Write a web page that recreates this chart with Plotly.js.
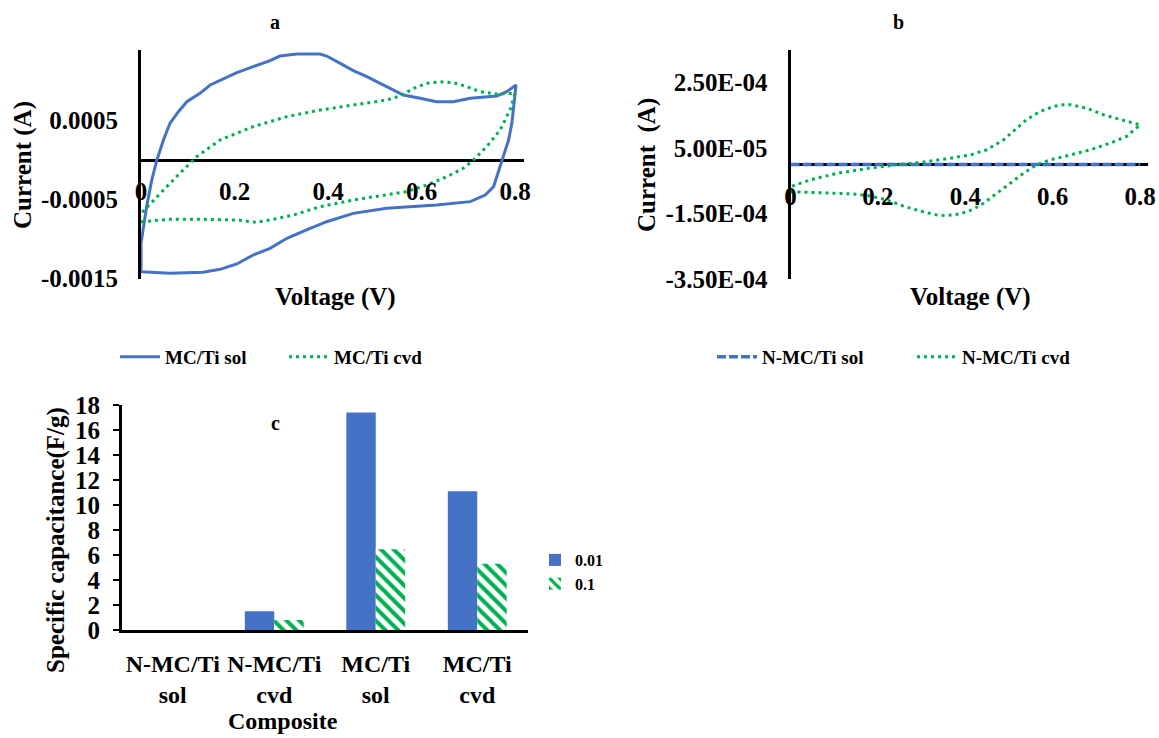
<!DOCTYPE html>
<html>
<head>
<meta charset="utf-8">
<script src="https://cdn.plot.ly/plotly-3.0.1.min.js"></script>
<style>html,body{margin:0;padding:0;background:#fff}#chart{width:1159px;height:738px}</style>
</head>
<body>
<div id="chart"></div>
<script>
// ---------- Panel a : MC/Ti (current in A, voltage in V) ----------
const voltA_sol = [0, 0, 0.012, 0.023, 0.034, 0.048, 0.062, 0.080, 0.098, 0.126,
  0.148, 0.169, 0.205, 0.240, 0.276, 0.297, 0.333, 0.383, 0.397, 0.426,
  0.454, 0.483, 0.518, 0.561, 0.597, 0.632, 0.668, 0.704, 0.761, 0.782,
  0.802, 0.799, 0.793, 0.786, 0.775, 0.764, 0.754, 0.736, 0.704, 0.632,
  0.525, 0.454, 0.397, 0.354, 0.312, 0.276, 0.240, 0.205, 0.169, 0.133,
  0.062, 0];
const currA_sol = [-1.419e-3, -1.059e-3, -0.593e-3, -0.254e-3, 0, 0.254e-3, 0.466e-3, 0.614e-3, 0.741e-3, 0.847e-3,
  0.953e-3, 1.008e-3, 1.110e-3, 1.186e-3, 1.262e-3, 1.321e-3, 1.347e-3, 1.347e-3, 1.321e-3, 1.228e-3,
  1.135e-3, 1.059e-3, 0.953e-3, 0.826e-3, 0.784e-3, 0.741e-3, 0.741e-3, 0.784e-3, 0.813e-3, 0.868e-3,
  0.953e-3, 0.784e-3, 0.466e-3, 0.254e-3, 0.042e-3, -0.169e-3, -0.339e-3, -0.445e-3, -0.529e-3, -0.572e-3,
  -0.614e-3, -0.678e-3, -0.784e-3, -0.889e-3, -0.995e-3, -1.122e-3, -1.207e-3, -1.321e-3, -1.389e-3, -1.427e-3,
  -1.440e-3, -1.419e-3];
const voltA_cvd = [0, 0.062, 0.133, 0.205, 0.247, 0.276, 0.326, 0.383, 0.454, 0.525,
  0.568, 0.611, 0.654, 0.689, 0.711, 0.739, 0.768, 0.789, 0.800, 0.761,
  0.725, 0.697, 0.668, 0.640, 0.611, 0.583, 0.554, 0.525, 0.454, 0.383,
  0.312, 0.240, 0.169, 0.119, 0.083, 0.048, 0.019, 0];
const currA_cvd = [-0.784e-3, -0.754e-3, -0.754e-3, -0.762e-3, -0.792e-3, -0.762e-3, -0.699e-3, -0.593e-3, -0.508e-3, -0.445e-3,
  -0.402e-3, -0.318e-3, -0.212e-3, -0.106e-3, 0, 0.169e-3, 0.381e-3, 0.635e-3, 0.847e-3, 0.839e-3,
  0.868e-3, 0.932e-3, 0.983e-3, 0.995e-3, 0.974e-3, 0.911e-3, 0.813e-3, 0.762e-3, 0.699e-3, 0.635e-3,
  0.551e-3, 0.424e-3, 0.254e-3, 0.042e-3, -0.169e-3, -0.381e-3, -0.551e-3, -0.678e-3];

// ---------- Panel b : N-MC/Ti ----------
const voltB_sol = [0, 0.2, 0.4, 0.6, 0.8];
const currB_sol = [1e-7, 1e-7, 1e-7, 1e-7, 1e-7];
const voltB_cvd = [0, 0.068, 0.144, 0.182, 0.220, 0.258, 0.296, 0.334, 0.357, 0.388,
  0.418, 0.441, 0.472, 0.502, 0.533, 0.563, 0.594, 0.640, 0.686, 0.731,
  0.769, 0.800, 0.754, 0.716, 0.678, 0.640, 0.624, 0.601, 0.571, 0.540,
  0.518, 0.487, 0.449, 0.411, 0.350, 0.296, 0.243, 0.182, 0.106, 0.045, 0];
const currB_cvd = [-8.3e-5, -8.6e-5, -9.0e-5, -9.6e-5, -10.8e-5, -12.7e-5, -14.2e-5, -15.4e-5, -15.6e-5, -15.1e-5,
  -13.7e-5, -11.9e-5, -8.8e-5, -5.7e-5, -2.7e-5, -0.1e-5, 1.4e-5, 2.9e-5, 4.5e-5, 6.5e-5,
  8.6e-5, 12.1e-5, 13.7e-5, 15.2e-5, 17.2e-5, 18.3e-5, 18.3e-5, 17.7e-5, 16.2e-5, 13.7e-5,
  11.1e-5, 7.5e-5, 4.5e-5, 2.9e-5, 1.6e-5, 0.6e-5, -0.1e-5, -1.1e-5, -2.7e-5, -4.7e-5, -6.8e-5];

// ---------- Panel c : specific capacitance ----------
const composites = ['N-MC/Ti<br>sol', 'N-MC/Ti<br>cvd', 'MC/Ti<br>sol', 'MC/Ti<br>cvd'];
const cap_001 = [0, 1.5, 17.4, 11.1];
const cap_01 = [0, 0.8, 6.45, 5.3];

// tick labels
const voltTicks = [0, 0.2, 0.4, 0.6, 0.8];
const voltTickText = ['0', '0.2', '0.4', '0.6', '0.8'];
const currTicksA = [-0.0015, -0.0005, 0.0005];
const currTickTextA = ['-0.0015', '-0.0005', '0.0005'];
const currTicksB = [-3.5e-4, -1.5e-4, 5e-5, 2.5e-4];
const currTickTextB = ['-3.50E-04', '-1.50E-04', '5.00E-05', '2.50E-04'];

const FAM = 'Liberation Serif, Times New Roman, serif';
const BLUE = '#4472C4', GREEN = '#00B050';
const W = 1159, H = 738;
const px = v => v / W, py = v => 1 - v / H;
const tickFont = {family: FAM, size: 25, color: '#000', weight: 'bold'};

const traces = [
  {x: voltA_sol, y: currA_sol, xaxis: 'x', yaxis: 'y', type: 'scatter', mode: 'lines', name: 'MC/Ti sol',
   line: {color: BLUE, width: 3}, legend: 'legend'},
  {x: voltA_cvd, y: currA_cvd, xaxis: 'x', yaxis: 'y', type: 'scatter', mode: 'lines', name: 'MC/Ti cvd',
   line: {color: GREEN, width: 3, dash: '3px,4px'}, legend: 'legend'},
  {x: voltB_sol, y: currB_sol, xaxis: 'x2', yaxis: 'y2', type: 'scatter', mode: 'lines', name: 'N-MC/Ti sol',
   line: {color: BLUE, width: 3.5, dash: '9px,3px'}, legend: 'legend2'},
  {x: voltB_cvd, y: currB_cvd, xaxis: 'x2', yaxis: 'y2', type: 'scatter', mode: 'lines', name: 'N-MC/Ti cvd',
   line: {color: GREEN, width: 3, dash: '3px,4px'}, legend: 'legend2'},
  {x: composites, y: cap_001, xaxis: 'x3', yaxis: 'y3', type: 'bar', name: '0.01',
   marker: {color: BLUE}, legend: 'legend3'},
  {x: composites, y: cap_01, xaxis: 'x3', yaxis: 'y3', type: 'bar', name: '0.1',
   marker: {color: GREEN, pattern: {shape: '\\', fgcolor: GREEN, bgcolor: '#ffffff', fillmode: 'replace', size: 9, solidity: 0.45}},
   legend: 'legend3'}
];

const legFont = {family: FAM, size: 19, color: '#000', weight: 'bold'};

function note(text, x, y, size, angle) {
  return {text: text, x: px(x), y: py(y), xref: 'paper', yref: 'paper', xanchor: 'center', yanchor: 'middle',
    showarrow: false, textangle: angle || 0, font: {family: FAM, size: size, color: '#000', weight: 'bold'}};
}

const layout = {
  width: W, height: H,
  margin: {l: 0, r: 0, t: 0, b: 0, pad: 0},
  paper_bgcolor: '#fff', plot_bgcolor: '#fff',
  showlegend: true,
  barmode: 'group', bargap: 0.42, bargroupgap: 0,
  xaxis: {domain: [px(141), px(524)], range: [0, 0.819], anchor: 'free', position: py(160),
    tickvals: voltTicks, ticktext: voltTickText, tickfont: tickFont, ticks: '', ticklabelstandoff: 14,
    showline: false, showgrid: false, zeroline: false, automargin: false},
  yaxis: {domain: [py(279), py(50)], range: [-0.0015121, 0.0013977], anchor: 'x',
    tickvals: currTicksA, ticktext: currTickTextA, tickfont: tickFont, ticks: '', ticklabelstandoff: 15,
    showline: true, linecolor: '#000', linewidth: 3, showgrid: false, automargin: false,
    zeroline: true, zerolinecolor: '#000', zerolinewidth: 3},
  xaxis2: {domain: [px(790.5), px(1148)], range: [0, 0.818], anchor: 'free', position: py(164.6),
    tickvals: voltTicks, ticktext: voltTickText, tickfont: tickFont, ticks: '', ticklabelstandoff: 14,
    showline: false, showgrid: false, zeroline: false, automargin: false},
  yaxis2: {domain: [py(279), py(50)], range: [-3.5e-4, 3.5e-4], anchor: 'x2',
    tickvals: currTicksB, ticktext: currTickTextB, tickfont: tickFont, ticks: '', ticklabelstandoff: 15,
    showline: true, linecolor: '#000', linewidth: 3, showgrid: false, automargin: false,
    zeroline: true, zerolinecolor: '#000', zerolinewidth: 3},
  xaxis3: {domain: [px(122), px(528)], anchor: 'y3', type: 'category', tickangle: 0,
    tickfont: {family: FAM, size: 24, color: '#000', weight: 'bold'}, ticks: '', ticklabelstandoff: 10,
    showline: true, linecolor: '#000', linewidth: 3, showgrid: false, zeroline: false, automargin: false},
  yaxis3: {domain: [py(630), py(405)], range: [0, 18], anchor: 'x3', dtick: 2, tick0: 0,
    tickfont: tickFont, ticks: 'outside', ticklen: 6, tickwidth: 2, tickcolor: '#000', ticklabelstandoff: 8,
    automargin: false, showline: true, linecolor: '#000', linewidth: 3, showgrid: false, zeroline: false},
  legend: {orientation: 'h', x: px(115), y: py(338), xanchor: 'left', yanchor: 'top',
    font: legFont, bgcolor: 'rgba(0,0,0,0)', itemwidth: 40, entrywidth: 114, entrywidthmode: 'pixels'},
  legend2: {orientation: 'h', x: px(712), y: py(338), xanchor: 'left', yanchor: 'top',
    font: legFont, bgcolor: 'rgba(0,0,0,0)', itemwidth: 40, entrywidth: 145, entrywidthmode: 'pixels'},
  legend3: {orientation: 'v', x: px(535), y: py(543), xanchor: 'left', yanchor: 'top',
    font: {family: FAM, size: 16, color: '#000', weight: 'bold'}, bgcolor: 'rgba(0,0,0,0)', itemwidth: 30},
  annotations: [
    note('a', 275, 22, 20),
    note('b', 898, 22, 20),
    note('c', 275, 423, 20),
    note('Voltage (V)', 335, 297, 25),
    note('Voltage (V)', 970, 297, 25),
    note('Current (A)', 23, 165, 25, -90),
    note('Current  (A)', 647, 165, 25, -90),
    note('Specific capacitance(F/g)', 56, 540, 25, -90),
    note('Composite', 283, 721, 24)
  ]
};

Plotly.newPlot('chart', traces, layout, {displayModeBar: false, staticPlot: true});
</script>
</body>
</html>
